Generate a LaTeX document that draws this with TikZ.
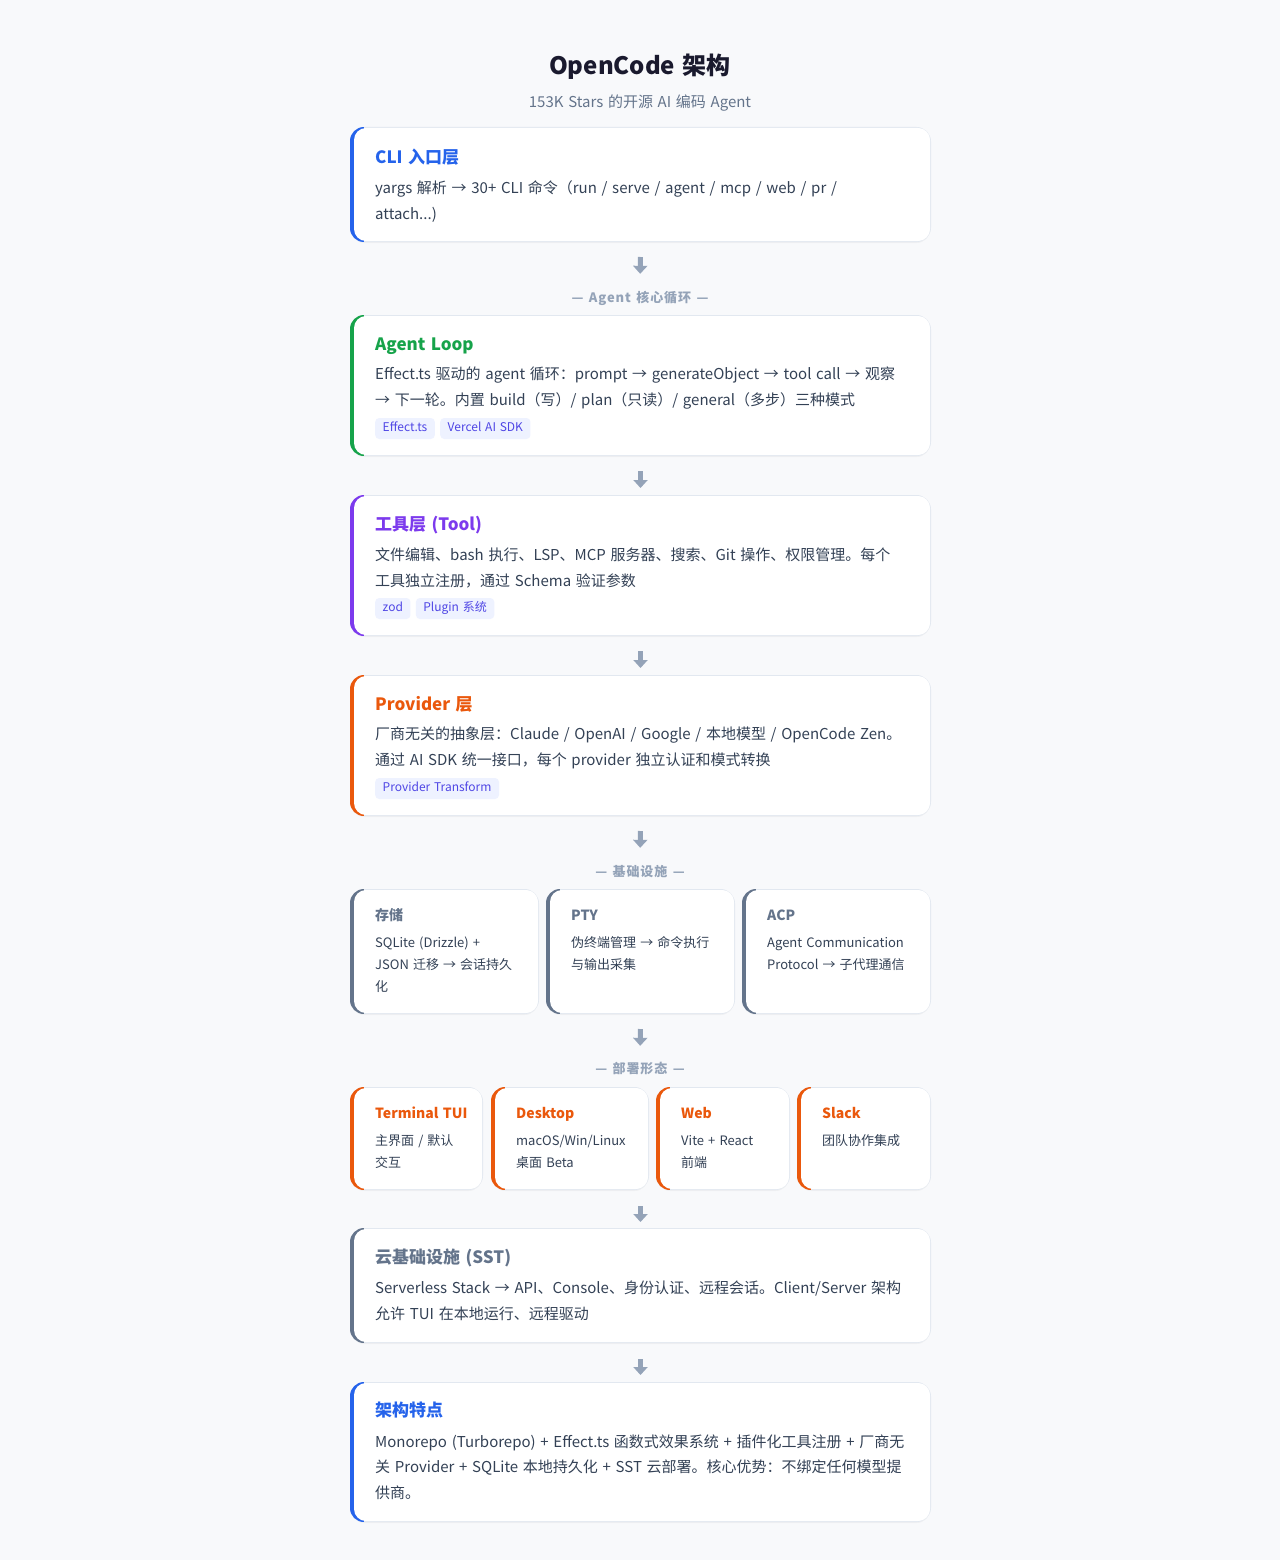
\documentclass[tikz,border=0pt]{standalone}
\usepackage{fontspec}
\setmainfont{Noto Sans CJK SC}[WordSpace=1.4]
\usetikzlibrary{arrows.meta}
\definecolor{bgc}{HTML}{F8F9FB}
\definecolor{bordc}{HTML}{E2E8F0}
\definecolor{titlec}{HTML}{1A1A2E}
\definecolor{subc}{HTML}{64748B}
\definecolor{bodyc}{HTML}{334155}
\definecolor{arrowc}{HTML}{94A3B8}
\definecolor{blueacc}{HTML}{2563EB}
\definecolor{greenacc}{HTML}{16A34A}
\definecolor{purpleacc}{HTML}{7C3AED}
\definecolor{orangeacc}{HTML}{EA580C}
\definecolor{grayacc}{HTML}{64748B}
\definecolor{tagbg}{HTML}{EEF2FF}
\definecolor{tagtx}{HTML}{4F46E5}
\newcommand\cardbox[6]{%
  \node[cardbase, minimum width=#4pt, minimum height=#5pt, anchor=north west] (#1) at (#2,#3) {};
  \begin{scope}
    \clip[rounded corners=14pt] (#1.north west) rectangle (#1.south east);
    \fill[#6] (#1.north west) rectangle ([xshift=14pt]#1.south west);
    \fill[white, rounded corners=12pt] ([xshift=4pt,yshift=-1pt]#1.north west) rectangle ([xshift=-1pt,yshift=1pt]#1.south east);
  \end{scope}}
\begin{document}
\begin{tikzpicture}[x=1pt,y=-1pt,
  cardbase/.style={draw=bordc, line width=1pt, fill=white, rounded corners=14pt, inner sep=0pt,
    preaction={fill=black, fill opacity=0.035, transform canvas={yshift=-1.5pt}}},
  ttl/.style={anchor=base west, inner sep=0pt, font=\fontsize{17}{20}\selectfont\bfseries},
  body/.style={anchor=base west, inner sep=0pt, text=bodyc, font=\fontsize{15}{18}\selectfont},
  sttl/.style={anchor=base west, inner sep=0pt, font=\fontsize{14}{16}\selectfont\bfseries},
  sbody/.style={anchor=base west, inner sep=0pt, text=bodyc, font=\fontsize{13}{16}\selectfont},
  tagbox/.style={anchor=west, fill=tagbg, text=tagtx, rounded corners=4pt, inner xsep=7.5pt, inner ysep=0pt,
    minimum height=21pt, text height=9pt, text depth=2.5pt, font=\fontsize{12}{14}\selectfont},
  seclbl/.style={anchor=center, inner sep=0pt, text=arrowc, text height=9pt, text depth=3pt,
    font=\fontsize{13}{15}\selectfont\bfseries\addfontfeature{LetterSpace=7}},
  flow/.style={draw=arrowc, line width=5pt, -{Triangle[width=14pt,length=8pt]}}
]
\useasboundingbox[fill=bgc] (0,0) rectangle (1280,1560);

% header
\node[anchor=base, inner sep=0pt, text=titlec, font=\fontsize{24}{28}\selectfont\bfseries] (title) at (640,75) {OpenCode 架构};
\node[anchor=base, inner sep=0pt, text=subc, font=\fontsize{15}{18}\selectfont] (subtitle) at (640,108) {153K Stars 的开源 AI 编码 Agent};

% CLI
\cardbox{cli}{350}{127}{580}{114}{blueacc}
\node[ttl, text=blueacc] (cliT) at (375,163) {CLI 入口层};
\node[body] (cli1) at (375,193) {yargs 解析 → 30+ CLI 命令（run / serve / agent / mcp / web / pr /};
\node[body] (cli2) at (375,219) {attach...)};

\node[seclbl] (lbl1) at (640,299) {— Agent 核心循环 —};

% Agent loop
\cardbox{agent}{350}{315}{580}{140}{greenacc}
\node[ttl, text=greenacc] (agT) at (375,350) {Agent Loop};
\node[body] (ag1) at (375,379) {Effect.ts 驱动的 agent 循环：prompt → generateObject → tool call → 观察};
\node[body] (ag2) at (375,405) {→ 下一轮。内置 build（写）/ plan（只读）/ general（多步）三种模式};
\node[tagbox] (agtag1) at (375,428.5) {Effect.ts};
\node[tagbox] (agtag2) at ([xshift=5pt]agtag1.east) {Vercel AI SDK};

% Tool
\cardbox{tool}{350}{495}{580}{140}{purpleacc}
\node[ttl, text=purpleacc] (toT) at (375,530) {工具层 (Tool)};
\node[body] (to1) at (375,560) {文件编辑、bash 执行、LSP、MCP 服务器、搜索、Git 操作、权限管理。每个};
\node[body] (to2) at (375,586) {工具独立注册，通过 Schema 验证参数};
\node[tagbox] (totag1) at (375,608.5) {zod};
\node[tagbox] (totag2) at ([xshift=5pt]totag1.east) {Plugin 系统};

% Provider
\cardbox{prov}{350}{675}{580}{140}{orangeacc}
\node[ttl, text=orangeacc] (prT) at (375,710) {Provider 层};
\node[body] (pr1) at (375,739) {厂商无关的抽象层：Claude / OpenAI / Google / 本地模型 / OpenCode Zen。};
\node[body] (pr2) at (375,765) {通过 AI SDK 统一接口，每个 provider 独立认证和模式转换};
\node[tagbox] (prtag1) at (375,788.5) {Provider Transform};

\node[seclbl] (lbl2) at (640,873) {— 基础设施 —};

% Infrastructure
\cardbox{sto}{350}{889}{188}{124}{grayacc}
\node[sttl, text=grayacc] (stoT) at (375,920) {存储};
\node[sbody] (sto1) at (375,947) {SQLite (Drizzle) +};
\node[sbody] (sto2) at (375,969) {JSON 迁移 → 会话持久};
\node[sbody] (sto3) at (375,991) {化};

\cardbox{pty}{546}{889}{188}{124}{grayacc}
\node[sttl, text=grayacc] (ptyT) at (571,920) {PTY};
\node[sbody] (pty1) at (571,947) {伪终端管理 → 命令执行};
\node[sbody] (pty2) at (571,969) {与输出采集};

\cardbox{acp}{742}{889}{188}{124}{grayacc}
\node[sttl, text=grayacc] (acpT) at (767,920) {ACP};
\node[sbody] (acp1) at (767,947) {Agent Communication};
\node[sbody] (acp2) at (767,969) {Protocol → 子代理通信};

\node[seclbl] (lbl3) at (640,1070) {— 部署形态 —};

% Deployment
\cardbox{tui}{350}{1087}{132}{102}{orangeacc}
\node[sttl, text=orangeacc] (tuiT) at (375,1118) {Terminal TUI};
\node[sbody] (tui1) at (375,1145) {主界面 / 默认};
\node[sbody] (tui2) at (375,1167) {交互};

\cardbox{desk}{491}{1087}{157}{102}{orangeacc}
\node[sttl, text=orangeacc] (deskT) at (516,1118) {Desktop};
\node[sbody] (desk1) at (516,1145) {macOS/Win/Linux};
\node[sbody] (desk2) at (516,1167) {桌面 Beta};

\cardbox{web}{656}{1087}{133}{102}{orangeacc}
\node[sttl, text=orangeacc] (webT) at (681,1118) {Web};
\node[sbody] (web1) at (681,1145) {Vite + React};
\node[sbody] (web2) at (681,1167) {前端};

\cardbox{slack}{797}{1087}{133}{102}{orangeacc}
\node[sttl, text=orangeacc] (slackT) at (822,1118) {Slack};
\node[sbody] (slack1) at (822,1145) {团队协作集成};

% Cloud
\cardbox{cloud}{350}{1228}{580}{114}{grayacc}
\node[ttl, text=grayacc] (clT) at (375,1263) {云基础设施 (SST)};
\node[body] (cl1) at (375,1293) {Serverless Stack → API、Console、身份认证、远程会话。Client/Server 架构};
\node[body] (cl2) at (375,1319) {允许 TUI 在本地运行、远程驱动};

% Features
\cardbox{feat}{350}{1382}{580}{139}{blueacc}
\node[ttl, text=blueacc] (feT) at (375,1416) {架构特点};
\node[body] (fe1) at (375,1447) {Monorepo (Turborepo) + Effect.ts 函数式效果系统 + 插件化工具注册 + 厂商无};
\node[body] (fe2) at (375,1472) {关 Provider + SQLite 本地持久化 + SST 云部署。核心优势：不绑定任何模型提};
\node[body] (fe3) at (375,1498) {供商。};

% connectors
\draw[flow, shorten <=15pt, shorten >=19pt] (cli.south) -- (lbl1.north);
\draw[flow, shorten <=15pt, shorten >=7pt] (agent.south) -- (tool.north);
\draw[flow, shorten <=15pt, shorten >=7pt] (tool.south) -- (prov.north);
\draw[flow, shorten <=15pt, shorten >=19pt] (prov.south) -- (lbl2.north);
\draw[flow, shorten <=15pt, shorten >=18pt] (pty.south) -- (lbl3.north);
\draw[flow, shorten <=16pt, shorten >=6pt] (cloud.north |- desk.south) -- (cloud.north);
\draw[flow, shorten <=16pt, shorten >=7pt] (cloud.south) -- (feat.north);
\end{tikzpicture}
\end{document}
